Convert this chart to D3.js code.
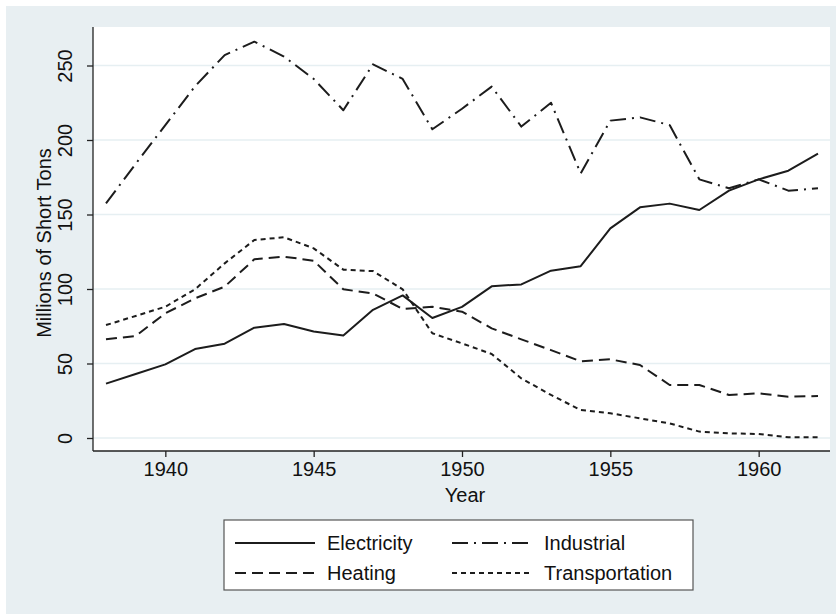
<!DOCTYPE html>
<html>
<head>
<meta charset="utf-8">
<script src="https://cdn.jsdelivr.net/npm/d3@7"></script>
<style>
  html, body { margin: 0; padding: 0; background: #ffffff; }
  svg { display: block; font-family: "Liberation Sans", Arial, Helvetica, sans-serif; }
</style>
</head>
<body>
<svg id="chart" width="840" height="614"></svg>
<script>
// ---------------- data ----------------
const years = [1938,1939,1940,1941,1942,1943,1944,1945,1946,1947,1948,1949,1950,
               1951,1952,1953,1954,1955,1956,1957,1958,1959,1960,1961,1962];
const electricity = [36.5,43,49.4,59.7,63.3,74,76.5,71.5,68.8,86,95.7,80.5,88,
                     101.8,103.1,112.3,115.3,140.7,154.8,157.3,153,166,173.6,179.4,190.8];
const industrial  = [157.5,184,210,236,257,266,256,241,220,250.8,241,207.2,221,
                     235.8,209,225,177.6,213,215.2,210,173.6,167.6,173.6,166,167.6];
const heating     = [66.2,68.5,83.7,93.7,101.6,119.9,121.7,119,99.8,97,86.6,88.1,84.8,
                     73.6,66.2,59,51.5,52.8,49,35.6,35.6,28.9,30,27.7,28.2];
const transportation = [75.8,81.9,88.1,99.8,117.2,132.9,134.7,127.3,113,112,99.8,70.3,63.5,
                        56.4,40,28.9,18.8,16.6,13.2,9.8,4.3,3.1,2.7,0.5,0.5];
const seriesNames = ["Electricity","Industrial","Heating","Transportation"];
const yTicks = [0,50,100,150,200,250];
const xTicks = [1940,1945,1950,1955,1960];
const yTitle = "Millions of Short Tons";
const xTitle = "Year";

// ---------------- layout ----------------
const svg = d3.select("#chart");
const W = 840, H = 614;
const FS = 20;
const plot = {left: 93, right: 830, top: 27, bottom: 451};
const dashes = {
  "Electricity": null,
  "Industrial": "16,6,2,6",
  "Heating": "11,6",
  "Transportation": "5,4"
};
const seriesData = {
  "Electricity": electricity,
  "Industrial": industrial,
  "Heating": heating,
  "Transportation": transportation
};

// outer background
svg.append("rect").attr("x", 6).attr("y", 6).attr("width", 830).attr("height", H - 6)
  .attr("fill", "#e8eff2");

// plot region
svg.append("rect").attr("x", plot.left).attr("y", plot.top)
  .attr("width", plot.right - plot.left).attr("height", plot.bottom - plot.top)
  .attr("fill", "#ffffff");

const x = d3.scaleLinear().domain([1938, 1962]).range([106, 818]);
const y = d3.scaleLinear().domain([0, 250]).range([438, 65.5]);

// gridlines
svg.append("g").selectAll("line").data(yTicks).join("line")
  .attr("x1", plot.left).attr("x2", plot.right)
  .attr("y1", d => y(d)).attr("y2", d => y(d))
  .attr("stroke", "#e6eff2").attr("stroke-width", 1.5);

// y axis
const yAxis = svg.append("g").attr("transform", `translate(${plot.left},0)`)
  .call(d3.axisLeft(y).tickValues(yTicks).tickSize(6).tickPadding(6).tickFormat(d3.format("d")));
yAxis.select(".domain").attr("d", `M0,${plot.top}V${plot.bottom}`).attr("stroke", "#222").attr("stroke-width", 1.3);
yAxis.selectAll(".tick line").attr("stroke", "#222").attr("stroke-width", 1.3);
yAxis.selectAll(".tick text")
  .attr("font-size", FS).attr("fill", "#111")
  .attr("text-anchor", "middle")
  .attr("x", 0).attr("dy", 0)
  .attr("transform", "translate(-26,0) rotate(-90)")
  .attr("y", 0)
  .attr("dominant-baseline", "middle");

// x axis
const xAxis = svg.append("g").attr("transform", `translate(0,${plot.bottom})`)
  .call(d3.axisBottom(x).tickValues(xTicks).tickSize(6).tickPadding(5).tickFormat(d3.format("d")));
xAxis.select(".domain").attr("d", `M${plot.left},0H${plot.right}`).attr("stroke", "#222").attr("stroke-width", 1.3);
xAxis.selectAll(".tick line").attr("stroke", "#222").attr("stroke-width", 1.3);
xAxis.selectAll(".tick text").attr("font-size", FS).attr("fill", "#111");

// axis titles
svg.append("text").attr("x", 465).attr("y", 502).attr("text-anchor", "middle")
  .attr("font-size", FS).attr("fill", "#111").text(xTitle);
svg.append("text").attr("transform", "translate(51,243) rotate(-90)")
  .attr("text-anchor", "middle").attr("font-size", FS).attr("fill", "#111").text(yTitle);

// lines
const line = d3.line().x((d, i) => x(years[i])).y(d => y(d));
seriesNames.forEach(name => {
  svg.append("path").datum(seriesData[name])
    .attr("d", line)
    .attr("fill", "none")
    .attr("stroke", "#1c1c1c")
    .attr("stroke-width", 2)
    .attr("stroke-linejoin", "round")
    .attr("stroke-dasharray", dashes[name]);
});

// legend
const lg = svg.append("g");
lg.append("rect").attr("x", 224).attr("y", 520).attr("width", 469).attr("height", 70)
  .attr("fill", "#ffffff").attr("stroke", "#555").attr("stroke-width", 1.2);
const legendItems = [
  {name: "Electricity", lx: 235, ty: 543},
  {name: "Industrial", lx: 452, ty: 543},
  {name: "Heating", lx: 235, ty: 573},
  {name: "Transportation", lx: 452, ty: 573}
];
legendItems.forEach(it => {
  lg.append("line").attr("x1", it.lx).attr("x2", it.lx + 80)
    .attr("y1", it.ty).attr("y2", it.ty)
    .attr("stroke", "#1c1c1c").attr("stroke-width", 2)
    .attr("stroke-dasharray", dashes[it.name]);
  lg.append("text").attr("x", it.lx + 92).attr("y", it.ty)
    .attr("dominant-baseline", "central")
    .attr("font-size", FS).attr("fill", "#111").text(it.name);
});
</script>
</body>
</html>
